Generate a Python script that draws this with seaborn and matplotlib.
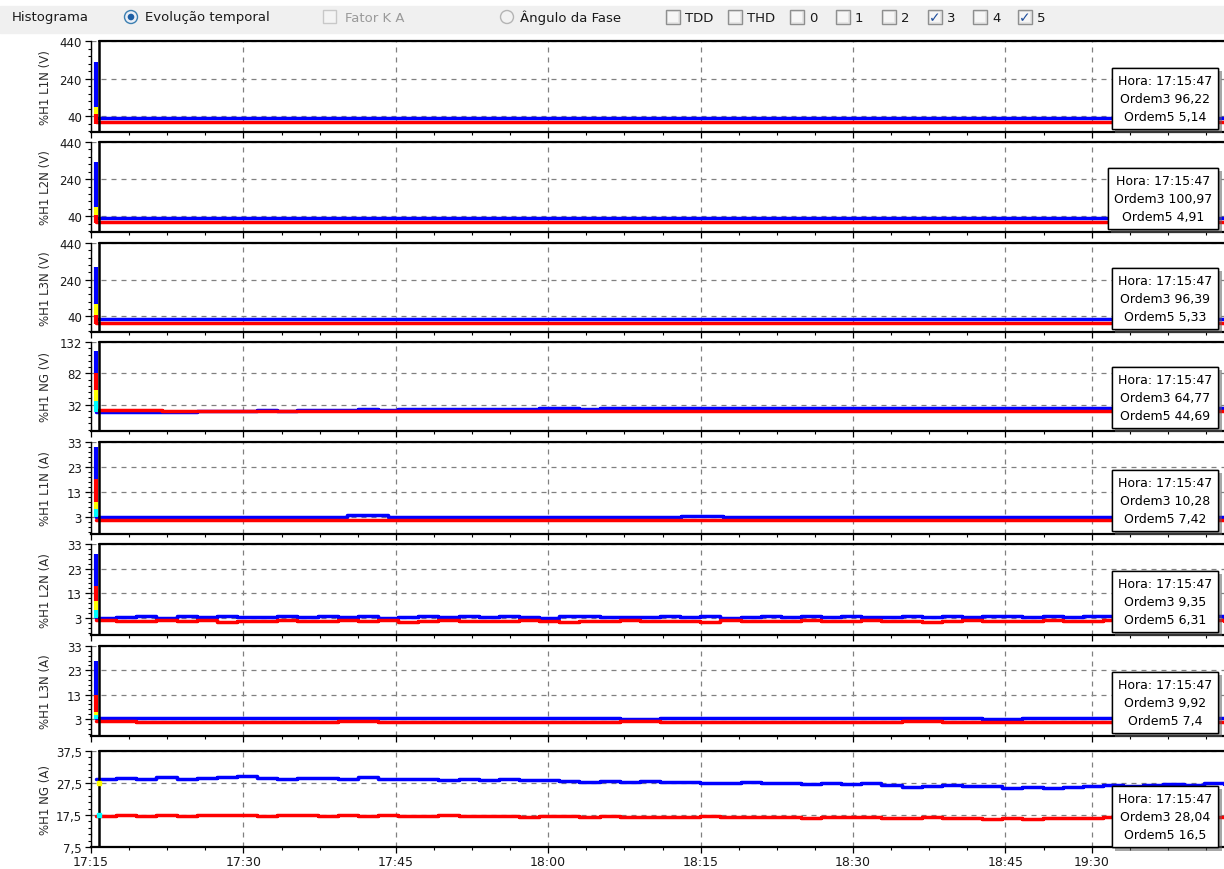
import matplotlib
matplotlib.use("Agg")
import numpy as np
import pandas as pd
import matplotlib.pyplot as plt
import seaborn as sns
from matplotlib.ticker import FixedLocator, AutoMinorLocator
from matplotlib.patches import Rectangle, Circle
import matplotlib.patheffects as pe

sns.set_theme(style="ticks")
plt.rcParams["font.family"] = ["DejaVu Sans"]

# ---------------- data ----------------
panel_labels = ["%H1 L1N (V)", "%H1 L2N (V)", "%H1 L3N (V)", "%H1 NG (V)",
                "%H1 L1N (A)", "%H1 L2N (A)", "%H1 L3N (A)", "%H1 NG (A)"]
y_min = [-45, -45, -45, -10, -4, -4, -4, 7.5]
y_max = [440, 440, 440, 132, 33, 33, 33, 37.5]
y_ticks = [[40, 240, 440], [40, 240, 440], [40, 240, 440], [32, 82, 132],
           [3, 13, 23, 33], [3, 13, 23, 33], [3, 13, 23, 33], [7.5, 17.5, 27.5, 37.5]]
y_ticklabels = [["40", "240", "440"], ["40", "240", "440"], ["40", "240", "440"],
                ["32", "82", "132"], ["3", "13", "23", "33"], ["3", "13", "23", "33"],
                ["3", "13", "23", "33"], ["7,5", "17,5", "27,5", "37,5"]]

# time axis in minutes after 17:15 (the software labels are irregular)
x_ticks = [0, 15, 30, 45, 60, 75, 90, 98.5]
x_ticklabels = ["17:15", "17:30", "17:45", "18:00", "18:15", "18:30", "18:45", "19:30"]
cursor_min = 0.8          # 17:15:47
t_start, t_end = 0.5, 111.5

hora = "17:15:47"
ordem3_txt = ["96,22", "100,97", "96,39", "64,77", "10,28", "9,35", "9,92", "28,04"]
ordem5_txt = ["5,14", "4,91", "5,33", "44,69", "7,42", "6,31", "7,4", "16,5"]

p1_o3 = [28, 28]
p1_o5 = [6, 6]
p2_o3 = [29, 29]
p2_o5 = [7, 7]
p3_o3 = [26, 26]
p3_o5 = [4, 4]
p4_o3 = [20.8, 21.0, 20.7, 21.1, 20.9, 21.2, 21.6, 22.4, 23.0, 22.6, 23.4, 23.8, 24.1, 24.5,
         24.3, 24.8, 25.0, 25.3, 25.1, 25.5, 25.7, 25.6, 25.9, 26.0, 25.8, 26.1, 26.2, 26.0,
         26.3, 26.2, 26.4, 26.3, 26.5, 26.4, 26.6, 26.5, 26.5, 26.7, 26.6, 26.8, 26.7, 26.6,
         26.8, 26.9, 26.7, 26.8, 26.9, 26.8, 27.0, 26.9, 26.8, 27.0, 26.9, 27.0, 26.9, 27.0, 26.9]
p4_o5 = [22.8, 22.6, 22.7, 22.5, 22.6, 22.4, 22.6, 22.5, 22.3, 22.5, 22.4, 22.6, 22.5, 22.3,
         22.4, 22.5, 22.3, 22.4]
p5_o3 = [2.8, 2.9, 2.8, 2.9, 3.0, 2.9, 3.5, 2.9, 2.8, 2.9, 2.9, 2.8, 2.9, 2.9, 3.4, 2.9,
         2.9, 2.8, 2.9, 2.9, 2.9, 2.8, 2.9, 2.9, 2.9, 2.9, 2.9, 2.9]
p5_o5 = [1.6, 1.5, 1.6, 1.6, 1.5, 1.6, 1.6, 1.5, 1.6, 1.6, 1.6, 1.5, 1.6, 1.6]
p6_o3 = [3.0, 3.2, 3.6, 3.1, 3.7, 3.3, 3.9, 3.2, 3.5, 3.9, 3.3, 3.6, 3.2, 3.8, 3.1, 3.5,
         3.9, 3.3, 3.6, 3.2, 3.8, 3.4, 3.1, 3.7, 3.9, 3.3, 3.5, 3.2, 3.8, 3.4, 3.6, 3.1,
         3.5, 3.9, 3.3, 3.7, 3.4, 3.8, 3.5, 3.2, 3.7, 3.4, 3.9, 3.3, 3.6, 3.8, 3.4, 3.7,
         3.2, 3.6, 3.8, 3.4, 3.7, 3.3, 3.6, 3.9, 3.5]
p6_o5 = [1.9, 1.7, 1.5, 1.9, 1.6, 2.0, 1.4, 1.8, 1.6, 1.9, 1.5, 1.8, 2.0, 1.6, 1.9, 1.4,
         1.7, 1.9, 1.5, 1.8, 1.6, 2.0, 1.7, 1.4, 1.8, 1.6, 1.9, 1.5, 1.8, 1.7, 1.4, 1.9,
         1.6, 1.8, 1.5, 2.0, 1.7, 1.5, 1.9, 1.6, 1.8, 1.4, 1.7, 1.9, 1.5, 1.8, 1.6, 2.0,
         1.7, 1.5, 1.9, 1.6, 1.8, 1.4, 1.7, 1.9, 1.6]
p7_o3 = [3.6, 3.5, 3.3, 3.2, 3.3, 3.2, 3.4, 3.2, 3.3, 3.2, 3.2, 3.3, 3.2, 3.1, 3.3, 3.2,
         3.3, 3.2, 3.2, 3.3, 3.2, 3.2, 3.1, 3.3, 3.2, 3.3, 3.2, 3.2, 3.3]
p7_o5 = [2.0, 1.8, 1.9, 1.6, 1.9, 1.7, 2.0, 1.8, 1.9, 1.6, 1.8, 1.9, 1.7, 2.0, 1.8, 1.6,
         1.9, 1.8, 1.7, 1.9, 2.0, 1.8, 1.6, 1.9, 1.8, 1.7, 1.9, 1.8, 1.9]
p8_o3 = [28.8, 29.1, 28.9, 29.3, 28.7, 29.0, 29.4, 29.6, 29.1, 28.9, 29.2, 29.0, 28.8, 29.3,
         28.9, 28.7, 28.9, 28.5, 28.7, 28.4, 28.6, 28.3, 28.4, 28.1, 27.9, 28.2, 27.8, 28.0,
         27.7, 27.9, 27.6, 27.5, 27.7, 27.4, 27.6, 27.3, 27.5, 27.2, 27.4, 26.8, 26.2, 26.6,
         26.9, 26.5, 26.7, 26.0, 26.4, 25.8, 26.3, 26.6, 26.9, 26.7, 27.0, 27.2, 26.9, 27.4, 27.2]
p8_o5 = [17.2, 17.4, 17.3, 17.5, 17.2, 17.4, 17.6, 17.5, 17.3, 17.5, 17.4, 17.2, 17.4, 17.3,
         17.5, 17.3, 17.2, 17.4, 17.1, 17.3, 17.2, 17.0, 17.2, 17.1, 16.9, 17.1, 17.0, 16.8,
         17.0, 16.9, 17.1, 16.9, 17.0, 16.8, 16.9, 16.7, 16.9, 17.0, 16.8, 16.7, 16.5, 16.8,
         16.6, 16.7, 16.4, 16.6, 16.3, 16.5, 16.7, 16.6, 16.8, 16.7, 16.9, 16.8, 17.0, 16.9, 17.0]

ordem3_series = [p1_o3, p2_o3, p3_o3, p4_o3, p5_o3, p6_o3, p7_o3, p8_o3]
ordem5_series = [p1_o5, p2_o5, p3_o5, p4_o5, p5_o5, p6_o5, p7_o5, p8_o5]

# initial transient bars at the start of each record: (colour, top, bottom)
spikes = [
    [("#0000ff", 330, 90), ("#ffff00", 90, 50), ("#ff0000", 50, 0)],
    [("#0000ff", 330, 90), ("#ffff00", 90, 45), ("#ff0000", 45, 5)],
    [("#0000ff", 310, 105), ("#ffff00", 105, 45), ("#ff0000", 45, 0)],
    [("#0000ff", 118, 82), ("#ff0000", 82, 55), ("#ffff00", 55, 38), ("#00ffff", 38, 20)],
    [("#0000ff", 31, 18), ("#ff0000", 18, 9), ("#ffff00", 9, 6), ("#00ffff", 6, 3)],
    [("#0000ff", 29, 16), ("#ff0000", 16, 10), ("#ffff00", 10, 6.3), ("#00ffff", 6.3, 2.8)],
    [("#0000ff", 27, 13), ("#ff0000", 13, 6), ("#ffff00", 6, 4.5), ("#00ffff", 4.5, 3)],
    [],
]
p8_cursor_points = [("#ffff00", 27.6), ("#00ffff", 17.4)]

# ---------------- layout ----------------
W, H = 1224, 870
fig = plt.figure(figsize=(W / 100, H / 100), dpi=100)
fig.patch.set_facecolor("white")
panel_px = [(42, 133), (143, 233), (244, 333), (343, 432),
            (443, 535), (545, 636), (647, 737), (752, 848)]
L, R = 91, 1224
px_per_min = 152.4 / 15
x_max = (R - L) / px_per_min

minor_x = [i * 3.75 for i in range(0, 26) if i % 4] + [102.25, 106.0, 109.75]

BLUE, RED = "#0000ff", "#ff0000"

for i, (top, bot) in enumerate(panel_px):
    ax = fig.add_axes([L / W, 1 - bot / H, (R - L) / W, (bot - top) / H])
    ax.set_facecolor("white")
    ax.set_xlim(0, x_max)
    ax.set_ylim(y_min[i], y_max[i])

    # grid
    ax.set_axisbelow(True)
    ax.grid(True, which="major", axis="both", color="#808080",
            linestyle=(0, (4, 4)), linewidth=0.9)

    # data
    o3 = ordem3_series[i]
    o5 = ordem5_series[i]
    df3 = pd.DataFrame({"t": np.linspace(t_start, t_end, len(o3)), "v": o3})
    df5 = pd.DataFrame({"t": np.linspace(t_start, t_end, len(o5)), "v": o5})
    sns.lineplot(data=df3, x="t", y="v", ax=ax, color=BLUE, lw=2.5,
                 drawstyle="steps-post", estimator=None, legend=False, zorder=3)
    sns.lineplot(data=df5, x="t", y="v", ax=ax, color=RED, lw=2.5,
                 drawstyle="steps-post", estimator=None, legend=False, zorder=3)

    for col, y0, y1 in spikes[i]:
        ax.vlines(0.45, y1, y0, color=col, lw=3.0, zorder=4)

    # cursor
    ax.axvline(cursor_min, color="black", lw=1.8, zorder=5)
    if i == 7:
        for col, yv in p8_cursor_points:
            ax.plot([cursor_min], [yv], marker="s", ms=2.5, color=col, mec=col, zorder=6)

    # frame
    ax.spines["top"].set_visible(False)
    ax.spines["right"].set_visible(False)
    ax.spines["left"].set_linewidth(1.0)
    ax.spines["left"].set_color("black")
    ax.spines["bottom"].set_linewidth(1.6)
    ax.spines["bottom"].set_color("black")
    ax.axhline(y_max[i], xmin=cursor_min / x_max, xmax=1, color="black", lw=1.6,
               clip_on=False, zorder=5)

    # ticks
    ax.xaxis.set_major_locator(FixedLocator(x_ticks))
    ax.xaxis.set_minor_locator(FixedLocator(minor_x))
    ax.set_xticklabels(x_ticklabels)
    ax.yaxis.set_major_locator(FixedLocator(y_ticks[i]))
    ax.set_yticklabels(y_ticklabels[i])
    ax.yaxis.set_minor_locator(AutoMinorLocator(5))
    ax.tick_params(axis="both", which="major", direction="out", length=4, width=0.9,
                   color="black", labelcolor="#1a1a1a", bottom=True, left=True)
    ax.tick_params(axis="both", which="minor", direction="out", length=2.2, width=0.8,
                   color="black", bottom=True, left=True)
    ax.tick_params(axis="y", which="major", labelsize=8.5, pad=2.5)
    ax.tick_params(axis="x", which="major", labelsize=9, pad=2)
    if i < 7:
        ax.tick_params(axis="x", labelbottom=False)
    ax.set_xlabel("")
    ax.set_ylabel("")

    # info box
    ann = ax.annotate(f"Hora: {hora}\nOrdem3 {ordem3_txt[i]}\nOrdem5 {ordem5_txt[i]}",
                      xy=(1, 0), xycoords="axes fraction",
                      xytext=(-12, 9 if i < 7 else 6), textcoords="offset pixels",
                      ha="right", va="bottom", multialignment="center",
                      fontsize=9, linespacing=1.5, color="black", zorder=10,
                      bbox=dict(boxstyle="square,pad=0.5", fc="white", ec="black", lw=1.0))
    ann.get_bbox_patch().set_path_effects([
        pe.withSimplePatchShadow(offset=(2.5, -2.5), shadow_rgbFace="#606060", alpha=0.55),
        pe.Normal()])

    # y label
    fig.text(45 / W, 1 - (top + bot) / 2 / H, panel_labels[i], rotation=90,
             ha="center", va="center", fontsize=8.5, color="#2a2a2a")

# ---------------- top UI bar ----------------
ui = fig.add_axes([0, 0, 1, 1], facecolor="none")
ui.set_xlim(0, W)
ui.set_ylim(H, 0)
ui.set_axis_off()
ui.add_patch(Rectangle((0, 7), W, 27, color="#f0f0f0", zorder=0))
yc = 18
fs = 9.5
ui.text(12, yc, "Histograma", fontsize=fs, va="center", ha="left", color="#1a1a1a")
# selected radio
ui.add_patch(Circle((131, yc), 6.5, fc="#e9eef6", ec="#3c7fb1", lw=1.0))
ui.add_patch(Circle((131, yc), 3.3, fc="#1d5fa5", ec="none"))
ui.text(145, yc, "Evolução temporal", fontsize=fs, va="center", ha="left", color="#1a1a1a")
# disabled checkbox
ui.add_patch(Rectangle((323, yc - 7), 13, 13, fc="#f4f4f4", ec="#c8c8c8", lw=1.0))
ui.text(345, yc, "Fator K A", fontsize=fs, va="center", ha="left", color="#9a9a9a")
# empty radio
ui.add_patch(Circle((507, yc), 6.5, fc="#f2f2f2", ec="#b4b4b4", lw=1.0))
ui.text(520, yc, "Ângulo da Fase", fontsize=fs, va="center", ha="left", color="#1a1a1a")

cb_centers = [673, 735, 797, 843, 889, 935, 980, 1025]
cb_labels = ["TDD", "THD", "0", "1", "2", "3", "4", "5"]
cb_checked = [False, False, False, False, False, True, False, True]
for cx, lab, chk in zip(cb_centers, cb_labels, cb_checked):
    ui.add_patch(Rectangle((cx - 7, yc - 7), 14, 14, fc="#e6e6e6", ec="#8e8f8f", lw=1.0))
    ui.add_patch(Rectangle((cx - 5, yc - 5), 10, 10, fc="#f6f6f6", ec="none"))
    if chk:
        ui.text(cx, yc + 0.5, "✓", fontsize=10, fontweight="bold", ha="center",
                va="center", color="#1f4e9c")
    ui.text(cx + 12, yc, lab, fontsize=fs, va="center", ha="left", color="#1a1a1a")

fig.savefig("out.png", dpi=100, facecolor="white")
